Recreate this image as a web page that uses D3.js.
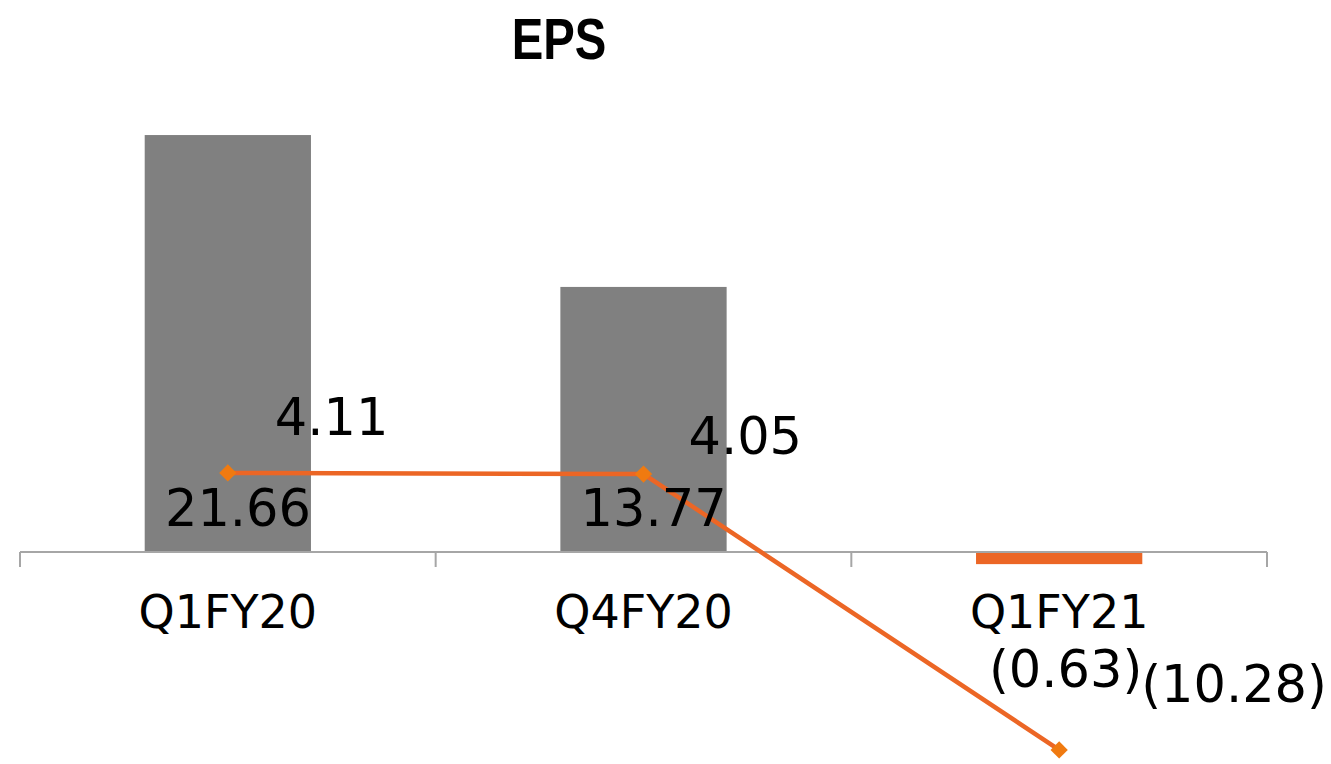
<!DOCTYPE html>
<html>
<head>
<meta charset="utf-8">
<script src="https://cdn.jsdelivr.net/npm/d3@7"></script>
<style>
  html, body { margin: 0; padding: 0; background: #fff; }
  svg { display: block; }
</style>
</head>
<body>
<svg id="chart" width="1331" height="764"></svg>
<script>
// EPS by quarter: bars and line share one value axis
const categories = ["Q1FY20", "Q4FY20", "Q1FY21"];
const barValues = [21.66, 13.77, -0.63];
const lineValues = [4.11, 4.05, -10.28];
const barLabels = ["21.66", "13.77", "(0.63)"];
const lineLabels = ["4.11", "4.05", "(10.28)"];

const W = 1331, H = 764;
const plot = { left: 20, right: 1267, zeroY: 552, pxPerUnit: 19.25 };

const gray = "#808080";
const orange = "#EC6625";
const markerOrange = "#F07A10";
const axisGray = "#A6A6A6";
const font = "'DejaVu Sans', sans-serif";

const svg = d3.select("#chart");

// bars take 40% of each category slot
const x = d3.scaleBand()
  .domain(categories)
  .range([plot.left, plot.right])
  .paddingInner(0.6)
  .paddingOuter(0.3);

const y = d3.scaleLinear()
  .domain([0, 1])
  .range([plot.zeroY, plot.zeroY - plot.pxPerUnit]);

const cx = c => x(c) + x.bandwidth() / 2;

// title, condensed bold
svg.append("text")
  .attr("transform", "translate(559,59) scale(0.83,1)")
  .attr("text-anchor", "middle")
  .style("font-family", "'Liberation Sans', sans-serif")
  .style("font-weight", "bold")
  .style("font-size", "57px")
  .style("fill", "#000")
  .text("EPS");

// bars
svg.append("g").selectAll("rect")
  .data(categories)
  .join("rect")
  .attr("x", c => x(c))
  .attr("width", x.bandwidth())
  .attr("y", (c, i) => y(Math.max(0, barValues[i])))
  .attr("height", (c, i) => Math.abs(y(barValues[i]) - y(0)))
  .attr("fill", (c, i) => barValues[i] < 0 ? orange : gray);

// category axis along zero
const axis = svg.append("g")
  .attr("transform", `translate(0,${y(0)})`)
  .call(d3.axisBottom(x).tickSize(0).tickFormat(""));
axis.select(".domain").remove();
axis.append("line")
  .attr("x1", plot.left).attr("x2", plot.right)
  .attr("y1", 0).attr("y2", 0)
  .attr("stroke", axisGray).attr("stroke-width", 2);
const boundaries = d3.range(categories.length + 1).map(i => plot.left + i * (plot.right - plot.left) / categories.length);
axis.selectAll("line.sep")
  .data(boundaries)
  .join("line")
  .attr("class", "sep")
  .attr("x1", d => d).attr("x2", d => d)
  .attr("y1", 0).attr("y2", 15)
  .attr("stroke", axisGray).attr("stroke-width", 2);

// category labels
svg.append("g").selectAll("text")
  .data(categories)
  .join("text")
  .attr("x", c => cx(c))
  .attr("y", 628)
  .attr("text-anchor", "middle")
  .style("font-family", font)
  .style("font-size", "46px")
  .style("fill", "#000")
  .text(c => c);

// line series
const line = d3.line()
  .x((d, i) => cx(categories[i]))
  .y(d => y(d));
svg.append("path")
  .datum(lineValues)
  .attr("d", line)
  .attr("fill", "none")
  .attr("stroke", orange)
  .attr("stroke-width", 4.5);

svg.append("g").selectAll("path")
  .data(lineValues)
  .join("path")
  .attr("transform", (d, i) => `translate(${cx(categories[i])},${y(d)})`)
  .attr("d", d3.symbol(d3.symbolDiamond2, 190))
  .attr("fill", markerOrange);

// bar value labels: right edge aligned to bar
const barLabelDy = [-26, -26, 135];
svg.append("g").selectAll("text")
  .data(barLabels)
  .join("text")
  .attr("x", (d, i) => x(categories[i]) + x.bandwidth())
  .attr("y", (d, i) => y(0) + barLabelDy[i])
  .attr("text-anchor", "end")
  .style("font-family", font)
  .style("font-size", "51px")
  .style("fill", "#000")
  .text(d => d);

// line value labels
const lineLabelDx = [47, 45, 82];
const lineLabelDy = [-38, -20, -48];
svg.append("g").selectAll("text")
  .data(lineLabels)
  .join("text")
  .attr("x", (d, i) => cx(categories[i]) + lineLabelDx[i])
  .attr("y", (d, i) => y(lineValues[i]) + lineLabelDy[i])
  .attr("text-anchor", "start")
  .style("font-family", font)
  .style("font-size", "51px")
  .style("fill", "#000")
  .text(d => d);
</script>
</body>
</html>
